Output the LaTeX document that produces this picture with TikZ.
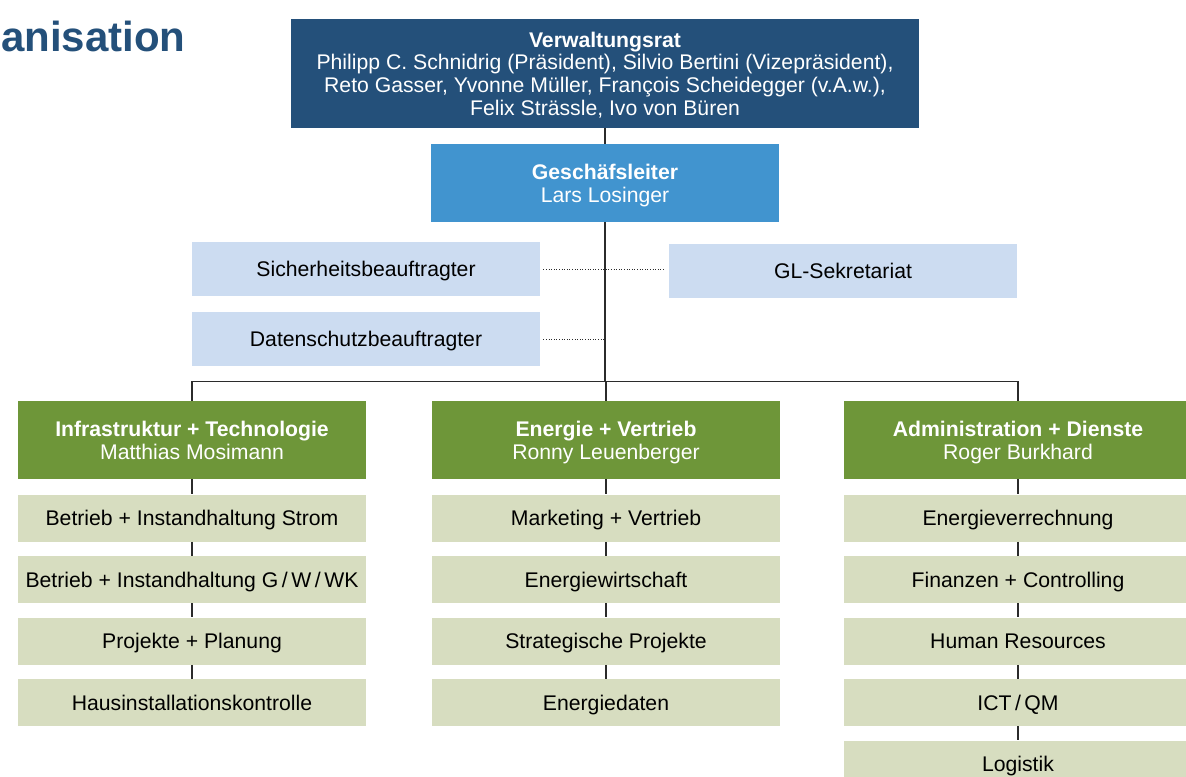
\documentclass[tikz,border=0pt]{standalone}
\usepackage{fontspec}
\setmainfont{Liberation Sans}
\definecolor{vrblue}{HTML}{24507A}
\definecolor{glblue}{HTML}{4194CF}
\definecolor{stabblue}{HTML}{CCDCF1}
\definecolor{bereichgreen}{HTML}{6E9639}
\definecolor{abtgreen}{HTML}{D7DDC0}
\definecolor{linegray}{HTML}{2B2B2B}

\begin{document}
\begin{tikzpicture}[x=0.5pt,y=-0.5pt,
    box/.style={inner sep=0pt,minimum width=174pt,align=center,text depth=0pt,font=\fontsize{10.6}{11.5}\selectfont},
    einzeilig/.style={text height=7.6pt},
    vrbox/.style={box,fill=vrblue,text=white,minimum width=314pt,minimum height=54.5pt,font=\fontsize{10.6}{11.3}\selectfont},
    glbox/.style={box,fill=glblue,text=white,minimum height=39pt},
    stabbox/.style={box,einzeilig,fill=stabblue,minimum height=27pt},
    leitbox/.style={box,fill=bereichgreen,text=white,minimum height=39pt},
    abtbox/.style={box,einzeilig,fill=abtgreen,minimum height=23.5pt},
    linie/.style={draw=linegray,line width=0.7pt},
    punkte/.style={draw=linegray,line width=0.5pt,dash pattern=on 0.5pt off 0.8pt}]
\useasboundingbox (0,0) rectangle (1186,776);

% titel
\node[anchor=base east,inner sep=0pt,text=vrblue,font=\fontsize{21}{24}\bfseries] (titel) at (186,51) {anisation};

% leitung
\node[vrbox] (vr) at (605,73.5) {\textbf{Verwaltungsrat}\\Philipp C. Schnidrig (Präsident), Silvio Bertini (Vizepräsident),\\Reto Gasser, Yvonne Müller, François Scheidegger (v.A.w.),\\Felix Strässle, Ivo von Büren};
\node[glbox] (gl) at (605,183) {\textbf{Geschäfsleiter}\\Lars Losinger};

% stabsstellen
\node[stabbox] (sb) at (366,269) {Sicherheitsbeauftragter};
\node[stabbox] (sek) at (843,271) {GL-Sekretariat};
\node[stabbox] (ds) at (366,339) {Datenschutzbeauftragter};

% bereiche
\node[leitbox] (it) at (192,440) {\textbf{Infrastruktur + Technologie}\\Matthias Mosimann};
\node[leitbox] (ev) at (606,440) {\textbf{Energie + Vertrieb}\\Ronny Leuenberger};
\node[leitbox] (ad) at (1018,440) {\textbf{Administration + Dienste}\\Roger Burkhard};

\foreach \t [count=\i] in {Betrieb + Instandhaltung Strom,Betrieb + Instandhaltung G\,/\,W\,/\,WK,Projekte + Planung,Hausinstallationskontrolle}
    \node[abtbox] (it\i) at (192,{456.5+61.5*\i}) {\t};
\foreach \t [count=\i] in {Marketing + Vertrieb,Energiewirtschaft,Strategische Projekte,Energiedaten}
    \node[abtbox] (ev\i) at (606,{456.5+61.5*\i}) {\t};
\foreach \t [count=\i] in {Energieverrechnung,Finanzen + Controlling,Human Resources,ICT\,/\,QM,Logistik}
    \node[abtbox] (ad\i) at (1018,{456.5+61.5*\i}) {\t};

% verbindungen
\coordinate (bar) at (605,382);
\draw[linie] (vr.south -| gl.north) -- (gl.north);
\draw[linie] (gl.south) -- (bar);
\draw[linie] (bar) -- (bar -| ev.north) -- (ev.north);
\draw[linie] (it.north) -- ++(0,-19) -| (ad.north);
\draw[punkte] ([xshift=1.5pt]sb.east) -- ([xshift=-2pt]sb.east -| sek.west);
\draw[punkte] ([xshift=1.5pt]ds.east) -- (ds.east -| bar);

\draw[linie] (it.south) -- (it1.north);
\draw[linie] (ev.south) -- (ev1.north);
\draw[linie] (ad.south) -- (ad1.north);
\foreach \i/\j in {1/2,2/3,3/4} {
    \draw[linie] (it\i.south) -- (it\j.north);
    \draw[linie] (ev\i.south) -- (ev\j.north);
}
\foreach \i/\j in {1/2,2/3,3/4,4/5}
    \draw[linie] (ad\i.south) -- (ad\j.north);
\end{tikzpicture}
\end{document}
